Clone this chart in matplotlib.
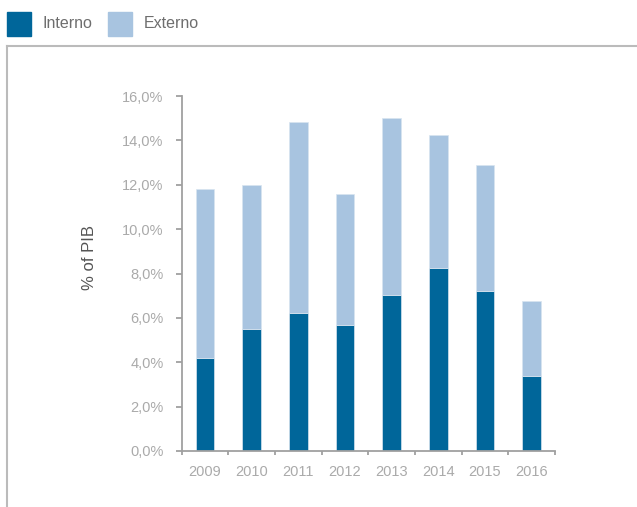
import numpy as np
import matplotlib.pyplot as plt
from matplotlib.lines import Line2D
from matplotlib.patches import Rectangle

plt.rcParams['font.family'] = ['Liberation Sans', 'DejaVu Sans']

years = ['2009', '2010', '2011', '2012', '2013', '2014', '2015', '2016']
interno = [4.2, 5.5, 6.2, 5.7, 7.05, 8.25, 7.2, 3.4]
total = [11.8, 12.0, 14.85, 11.6, 15.0, 14.25, 12.9, 6.75]
externo = [t - i for t, i in zip(total, interno)]
yticks = [0, 2, 4, 6, 8, 10, 12, 14, 16]

c_int = '#00669a'
c_ext = '#a8c4e0'
grey = '#a0a0a0'

fig = plt.figure(figsize=(6.37, 5.07), dpi=100)
ax = fig.add_axes([181.7 / 637, 56 / 507, 373.3 / 637, 355 / 507])

x = np.arange(len(years))
ax.bar(x, interno, width=0.4, color=c_int, edgecolor='#d8e4ef', linewidth=0.5)
ax.bar(x, externo, width=0.4, bottom=interno, color=c_ext, edgecolor='#d8e4ef', linewidth=0.5)

ax.set_xlim(-0.5, len(years) - 0.5)
ax.set_ylim(0, 16)
ax.set_yticks(yticks)
ax.set_yticklabels([f'{v:.1f}%'.replace('.', ',') for v in yticks])
ax.set_xticks(x)
ax.set_xticklabels(years)
ax.set_xticks(np.arange(-0.5, len(years)), minor=True)

for s in ['top', 'right']:
    ax.spines[s].set_visible(False)
for s in ['left', 'bottom']:
    ax.spines[s].set_color(grey)
    ax.spines[s].set_linewidth(1.3)

ax.tick_params(axis='x', which='major', length=0, pad=10, labelsize=10.5, labelcolor='#aaaaaa')
ax.tick_params(axis='x', which='minor', length=3, width=1.3, color=grey)
ax.tick_params(axis='y', length=4, width=1.3, color=grey, pad=9, labelsize=10.5, labelcolor='#aaaaaa')

ax.set_ylabel('% of PIB', fontsize=12, color='#555555')
ax.yaxis.set_label_coords(-0.228, 0.545)

# outer frame (top and left edges only)
fig.add_artist(Line2D([7 / 637, 1], [1 - 46 / 507, 1 - 46 / 507], color='#bbbbbb', lw=1.5))
fig.add_artist(Line2D([7 / 637, 7 / 637], [0, 1 - 46 / 507], color='#bbbbbb', lw=1.5))

# legend above the frame
for x0, label, col in [(7, 'Interno', c_int), (108, 'Externo', c_ext)]:
    fig.add_artist(Rectangle((x0 / 637, 1 - 36 / 507), 24 / 637, 24 / 507,
                             color=col, transform=fig.transFigure))
    fig.text((x0 + 36) / 637, 1 - 24 / 507, label, fontsize=11.5, color='#6e6e6e',
             va='center', ha='left')

fig.savefig('out.png', dpi=100)
